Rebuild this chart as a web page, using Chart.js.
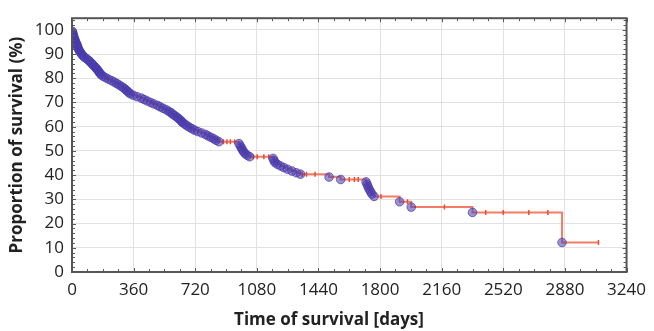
<!DOCTYPE html>
<html><head><meta charset="utf-8">
<script src="https://cdn.jsdelivr.net/npm/chart.js@4.4.1/dist/chart.umd.min.js"></script>
<style>html,body{margin:0;padding:0;background:#fff;}#wrap{width:654px;height:331px;}</style>
</head><body><div id="wrap"><canvas id="c" width="654" height="331"></canvas></div>
<script>
// Kaplan-Meier events (circles): day and survival (%) after the drop
const eventDays = [2,4,6,8,11,14,17,20,24,28,31,34,37,41,46,52,58,65,74,86,97,106,114,122,130,138,145,152,158,164,171,182,198,214,232,248,262,276,290,302,312,322,331,340,358,380,405,422,440,460,478,500,515,532,550,565,578,588,600,612,622,632,640,648,660,672,686,700,716,735,758,780,795,812,828,842,858,
  976,984,990,996,1003,1012,1024,1038,
  1175,1180,1186,1200,1218,1238,1260,1285,1310,1335,
  1502,1570,
  1718,1724,1730,1736,1744,1752,1765,
  1914,1982,2340,2863];
const eventSurv = [99.4,98.8,98.2,97.6,97.0,96.4,95.8,95.2,94.6,94.0,93.4,92.8,92.2,91.6,91.0,90.4,89.8,89.2,88.6,88.0,87.4,86.8,86.2,85.6,85.0,84.4,83.8,83.2,82.6,82.0,81.4,80.8,80.2,79.6,79.0,78.4,77.8,77.2,76.6,76.0,75.4,74.8,74.2,73.6,73.0,72.4,71.8,71.2,70.6,70.0,69.4,68.8,68.2,67.6,67.0,66.4,65.8,65.2,64.6,64.0,63.4,62.8,62.2,61.6,61.0,60.4,59.8,59.2,58.6,58.0,57.4,56.8,56.2,55.6,55.0,54.4,53.8,
  53.0,52.0,51.2,50.4,49.6,48.8,48.2,47.6,
  46.9,46.0,45.2,44.5,43.8,43.1,42.4,41.7,41.0,40.4,
  39.2,38.2,
  37.2,36.2,35.2,34.2,33.2,32.2,31.2,
  29.0,26.8,24.6,12.2];
// Censored observations (small vertical marks)
const censorDays = [120,205,350,470,610,850,885,905,925,950,1060,1082,1121,1150,1345,1370,1420,1620,1650,1672,1805,1960,2176,2417,2520,2669,2780,3076];
const censorSurv = [85.6,80.2,73.6,70.0,64.6,54.4,53.8,53.8,53.8,53.8,47.6,47.6,47.6,47.6,40.4,40.4,40.4,38.2,38.2,38.2,31.2,29.0,26.8,24.6,24.6,24.6,24.6,12.2];
const startDay = 0, startSurv = 100, endDay = 3076, endSurv = 12.2;
const xTicks = [0,360,720,1080,1440,1800,2160,2520,2880,3240];
const yTicks = [0,10,20,30,40,50,60,70,80,90,100];
const xTitle = 'Time of survival [days]';
const yTitle = 'Proportion of survival (%)';

const linePts = [{x:startDay,y:startSurv}]
  .concat(eventDays.map((d,i)=>({x:d,y:eventSurv[i]})))
  .concat([{x:endDay,y:endSurv}]);
const eventPts = eventDays.map((d,i)=>({x:d,y:eventSurv[i]}));
const censorPts = censorDays.map((d,i)=>({x:d,y:censorSurv[i]}));

const FONT = "'Open Sans', 'Noto Sans', sans-serif";

const framePlugin = {
  id:'frame',
  afterDatasetsDraw(chart){
    const {ctx, chartArea:a, scales} = chart;
    const xs = scales.x, ys = scales.y;
    ctx.save();
    ctx.strokeStyle = '#5a5a5a';
    ctx.lineWidth = 1;
    for (let v = 0; v <= 3240; v += 90) {
      const px = Math.round(xs.getPixelForValue(v)) + 0.5;
      const len = (v % 360 === 0) ? 4 : 3;
      ctx.beginPath();
      ctx.moveTo(px, a.bottom); ctx.lineTo(px, a.bottom - len);
      ctx.moveTo(px, a.top); ctx.lineTo(px, a.top + len);
      ctx.stroke();
    }
    for (let v = 0; v <= 104; v += 2) {
      const py = Math.round(ys.getPixelForValue(v)) + 0.5;
      const len = (v % 10 === 0) ? 4 : 3;
      ctx.beginPath();
      ctx.moveTo(a.left, py); ctx.lineTo(a.left + len, py);
      ctx.moveTo(a.right, py); ctx.lineTo(a.right - len, py);
      ctx.stroke();
    }
    ctx.lineWidth = 2;
    ctx.strokeStyle = '#555';
    ctx.strokeRect(a.left, a.top, a.right - a.left, a.bottom - a.top);
    // x-axis title (placed slightly left of plot centre, as in the original)
    ctx.fillStyle = '#222';
    ctx.font = "bold 17px " + FONT;
    ctx.textAlign = 'center';
    ctx.textBaseline = 'middle';
    ctx.fillText(xTitle, 329, 320);
    ctx.restore();
  }
};

new Chart(document.getElementById('c'), {
  type:'scatter',
  data:{datasets:[
    {label:'events', data:eventPts, showLine:false, order:0,
     pointRadius:4.3, pointHoverRadius:4.3, pointStyle:'circle',
     backgroundColor:'rgba(72,60,175,0.55)', borderColor:'rgba(70,55,170,0.7)', borderWidth:1},
    {label:'censored', data:censorPts, showLine:false, order:1,
     pointStyle:'line', rotation:90, pointRadius:2.5, pointHoverRadius:2.5,
     borderColor:'#ee4b33', borderWidth:1.5},
    {label:'survival', data:linePts, showLine:true, stepped:'before', order:2,
     pointRadius:0, borderColor:'rgba(243,110,85,0.9)', borderWidth:2, fill:false}
  ]},
  options:{
    responsive:false, animation:false, maintainAspectRatio:false,
    layout:{padding:{top:12,right:23,bottom:0,left:0}},
    plugins:{legend:{display:false}, tooltip:{enabled:false}},
    scales:{
      x:{type:'linear', min:0, max:3240,
        afterBuildTicks(s){ s.ticks = xTicks.map(v=>({value:v})); },
        afterFit(s){ s.height = 59; },
        grid:{color:'#e2e2e2', lineWidth:1, drawTicks:false},
        border:{display:false},
        ticks:{color:'#222', padding:8, maxRotation:0, autoSkip:false, font:{family:FONT,size:17},
          callback:(v)=>String(v)},
        title:{display:false}
      },
      y:{type:'linear', min:0, max:104.8,
        afterBuildTicks(s){ s.ticks = yTicks.map(v=>({value:v})); },
        afterFit(s){ s.width = 72; },
        grid:{color:'#e2e2e2', lineWidth:1, drawTicks:false},
        border:{display:false},
        ticks:{color:'#222', padding:8, autoSkip:false, font:{family:FONT,size:17},
          callback:(v)=>String(v)},
        title:{display:true, text:yTitle, color:'#222', padding:{top:7,bottom:0}, font:{family:FONT,size:17,weight:'bold'}}
      }
    }
  },
  plugins:[framePlugin]
});
</script></body></html>
